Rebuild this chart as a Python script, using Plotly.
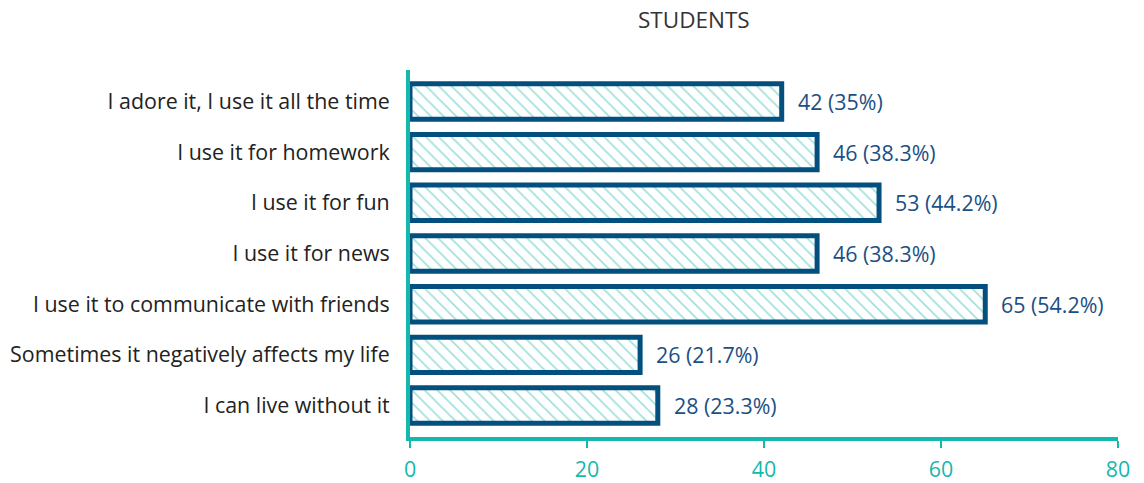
import plotly.graph_objects as go

categories = [
    "I adore it, I use it all the time",
    "I use it for homework",
    "I use it for fun",
    "I use it for news",
    "I use it to communicate with friends",
    "Sometimes it negatively affects my life",
    "I can live without it",
]
counts = [42, 46, 53, 46, 65, 26, 28]
percents = [35, 38.3, 44.2, 38.3, 54.2, 21.7, 23.3]
x_ticks = [0, 20, 40, 60, 80]

labels = [f"{c} ({p:g}%)" for c, p in zip(counts, percents)]

TEAL = "#14b8ad"
NAVY = "#03507f"
LABEL_BLUE = "#1b5084"
FONT = "Open Sans"
SIZE = 21.4

fig = go.Figure(
    go.Bar(
        x=counts,
        y=categories,
        orientation="h",
        width=0.7,
        cliponaxis=False,
        marker=dict(
            color="white",
            line=dict(color=NAVY, width=5),
            pattern=dict(shape="\\", fgcolor="#3fbfbc", bgcolor="white",
                         size=9, solidity=0.18),
        ),
        hoverinfo="skip",
    )
)

# value labels beside each bar
annotations = [
    dict(x=c, y=cat, text=lab, xref="x", yref="y", xanchor="left",
         yanchor="middle", xshift=14, showarrow=False,
         font=dict(family=FONT, size=SIZE, color=LABEL_BLUE))
    for c, cat, lab in zip(counts, categories, labels)
]
annotations.append(
    dict(text="STUDENTS", x=0.401, y=1, xref="paper", yref="paper",
         xanchor="center", yanchor="bottom", yshift=33, showarrow=False,
         font=dict(family=FONT, size=22.5, color="#333333"))
)

fig.update_layout(
    width=1144,
    height=483,
    margin=dict(l=410, r=26, t=70, b=46),
    paper_bgcolor="white",
    plot_bgcolor="white",
    showlegend=False,
    font=dict(family=FONT, size=SIZE, color="#222222"),
    annotations=annotations,
)

fig.update_xaxes(
    range=[0, 80],
    tickvals=x_ticks,
    automargin=False,
    showgrid=False,
    zeroline=False,
    showline=True,
    linecolor=TEAL,
    linewidth=4,
    ticks="outside",
    ticklen=7,
    tickwidth=2,
    tickcolor=TEAL,
    ticklabelstandoff=3,
    tickfont=dict(family=FONT, size=SIZE, color=TEAL),
)

fig.update_yaxes(
    categoryorder="array",
    categoryarray=categories[::-1],
    range=[-0.62, 6.62],
    automargin=False,
    showgrid=False,
    zeroline=False,
    showline=True,
    linecolor=TEAL,
    linewidth=4,
    ticks="",
    ticklabelstandoff=12,
    tickfont=dict(family=FONT, size=SIZE, color="#222222"),
)

fig.write_html("out.html")
